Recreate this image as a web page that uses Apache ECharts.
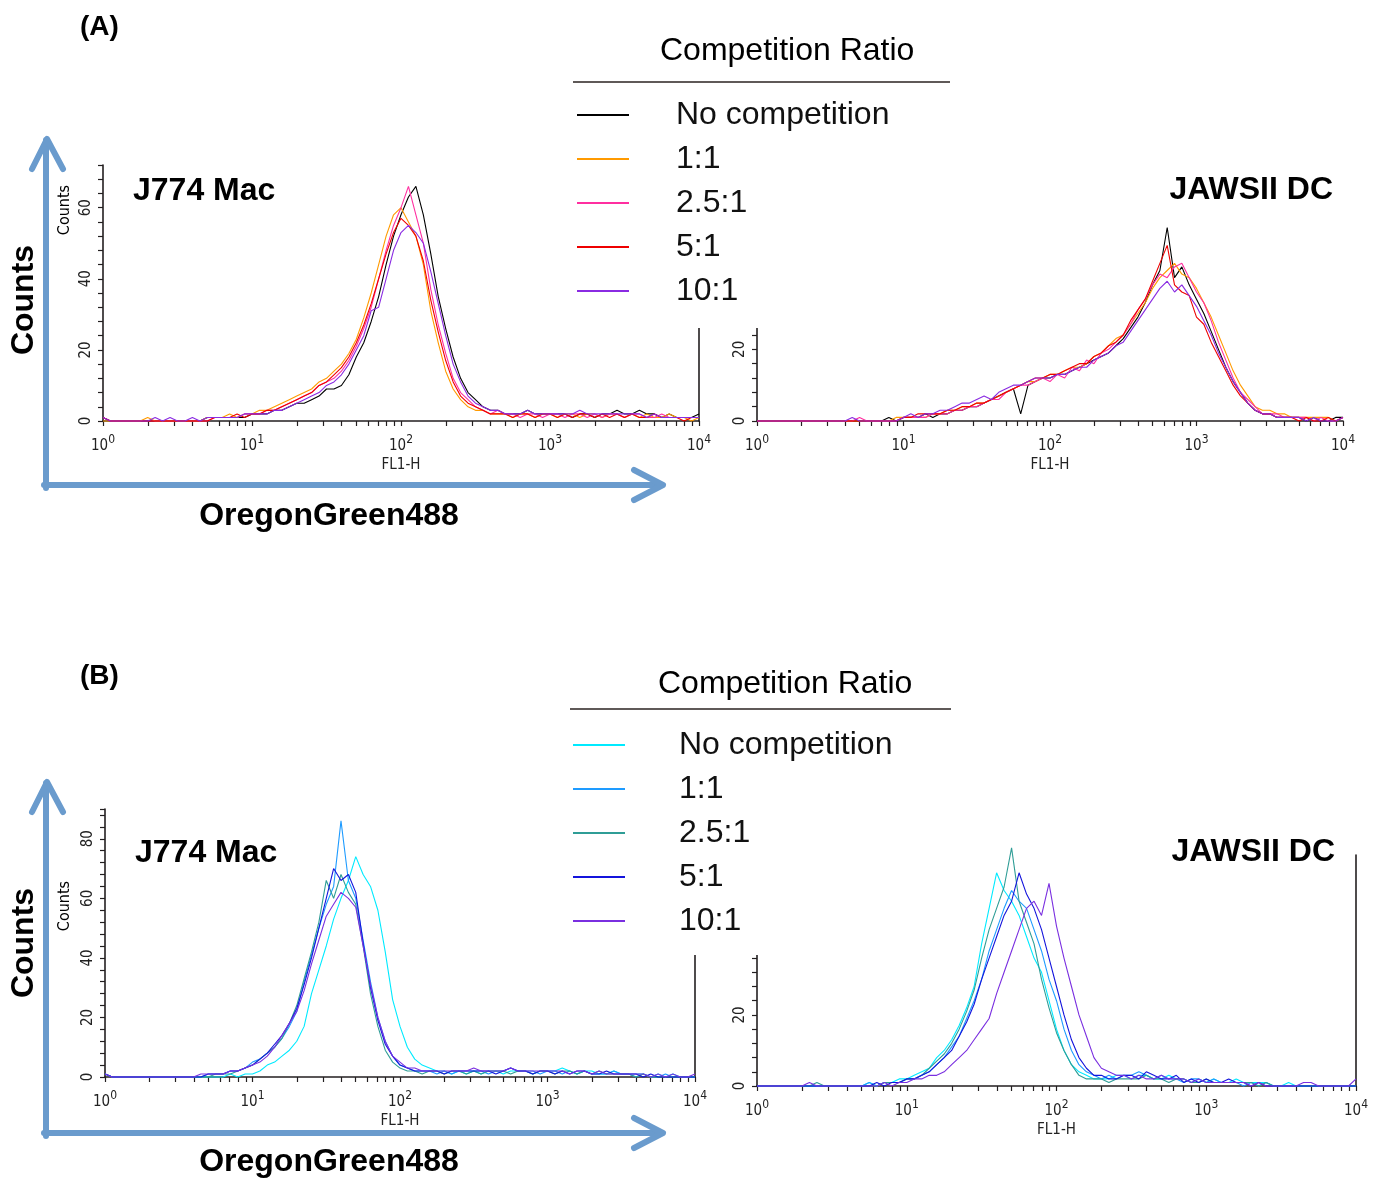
<!DOCTYPE html>
<html>
<head>
<meta charset="utf-8">
<script src="https://cdn.jsdelivr.net/npm/echarts@6/dist/echarts.min.js"></script>
<style>html,body{margin:0;padding:0;background:#fff}#c{width:1377px;height:1180px}</style>
</head>
<body>
<div id="c"></div>
<script>
// FL1-H position in decades (10^0 .. 10^4)
const fl1Decade = [0,0.05,0.1,0.15,0.2,0.25,0.3,0.35,0.4,0.45,0.5,0.55,0.6,0.65,0.7,0.75,0.8,0.85,0.9,0.95,1,1.05,1.1,1.15,1.2,1.25,1.3,1.35,1.4,1.45,1.5,1.55,1.6,1.65,1.7,1.75,1.8,1.85,1.9,1.95,2,2.05,2.1,2.15,2.2,2.25,2.3,2.35,2.4,2.45,2.5,2.55,2.6,2.65,2.7,2.75,2.8,2.85,2.9,2.95,3,3.05,3.1,3.15,3.2,3.25,3.3,3.35,3.4,3.45,3.5,3.55,3.6,3.65,3.7,3.75,3.8,3.85,3.9,3.95,4];
const decadeLabels = [0,1,2,3,4];
const ratioNames = ['No competition','1:1','2.5:1','5:1','10:1'];

// Panel A, J774 Mac
const aMacNone = [1,0,0,0,0,0,0,0,0,0, 0,0,0,0,1,1,1,1,1,1, 2,2,2,3,3,4,5,5,6,7, 9,9,10,13,18,22,28,35,44,52, 58,63,66,58,47,35,26,18,12,8, 6,4,3,3,2,2,2,3,2,2, 2,2,2,1,2,2,1,2,2,3, 2,2,3,2,2,1,2,1,1,1, 2];
const aMac1 = [0,0,0,0,0,0,1,0,0,0, 0,0,0,0,1,1,1,2,1,2, 2,3,3,4,5,6,7,8,9,11, 12,14,16,19,23,29,36,44,52,58, 60,56,52,44,31,22,14,9,6,4, 3,3,2,2,2,1,2,2,1,2, 2,1,2,2,1,2,2,1,2,2, 1,2,1,2,1,1,2,1,1,0, 1];
const aMac25 = [1,0,0,0,0,0,0,0,0,0, 0,0,0,0,0,1,1,1,1,2, 2,2,3,3,4,5,6,7,8,10, 11,12,14,17,21,26,32,40,48,55, 60,66,58,50,37,27,19,12,8,6, 4,3,2,3,2,2,1,2,2,1, 2,2,1,2,2,1,2,1,2,2, 1,2,2,1,1,2,1,1,1,1, 1];
const aMac5 = [1,0,0,0,0,0,0,0,0,0, 0,0,0,0,0,1,1,1,2,1, 2,2,3,3,4,5,6,7,8,10, 11,13,15,18,22,27,33,40,47,53, 57,55,52,45,34,25,17,11,7,5, 4,3,2,2,2,1,2,2,1,2, 2,1,2,1,2,2,1,2,1,2, 1,2,1,1,2,1,1,1,0,1, 1];
const aMac10 = [1,0,0,0,0,0,0,1,0,1, 0,0,1,0,1,1,1,1,1,2, 2,2,2,3,3,4,5,6,7,8, 10,11,13,16,20,24,31,32,40,48, 53,55,53,50,42,33,24,16,11,7, 5,4,3,3,2,2,2,3,2,2, 2,2,2,2,3,2,2,2,2,2, 2,2,2,1,2,1,1,1,1,1, 1];

// Panel A, JAWSII DC
const aDcNone = [0,0,0,0,0,0,0,0,0,0, 0,0,0,0,0,0,0,0,1,0, 1,1,1,2,1,2,2,3,3,4, 4,5,6,7,8,9,2,10,11,12, 12,13,13,14,15,16,17,18,19,21, 23,26,29,33,38,42,54,40,43,38, 34,30,25,20,15,11,8,5,3,2, 2,1,1,1,1,0,1,0,0,1, 1];
const aDc1 = [0,0,0,0,0,0,0,0,0,0, 0,0,0,0,0,0,0,0,0,1, 1,1,1,1,2,2,3,3,4,4, 5,5,6,7,8,9,10,11,11,12, 13,13,14,15,15,16,18,19,21,23, 24,27,30,33,37,40,42,44,41,40, 37,33,29,24,19,14,10,7,4,3, 3,2,2,1,1,1,1,1,1,0, 1];
const aDc25 = [0,0,0,0,0,0,0,0,0,0, 0,0,0,0,1,0,0,0,0,0, 1,1,1,1,2,2,2,3,3,4, 4,5,6,6,8,9,10,10,11,12, 11,13,12,15,14,17,16,19,20,22, 24,27,31,34,38,41,40,43,44,40, 36,33,28,22,17,12,8,6,4,2, 2,2,1,1,1,1,0,1,0,0, 1];
const aDc5 = [0,0,0,0,0,0,0,0,0,0, 0,0,0,0,0,0,0,0,0,0, 1,1,2,2,2,2,3,3,4,4, 5,5,6,7,8,9,10,11,12,12, 13,13,14,15,16,16,18,19,21,22, 24,28,31,34,39,44,49,38,36,35, 29,27,22,18,14,10,7,5,3,2, 2,1,1,1,0,1,0,0,1,0, 1];
const aDc10 = [0,0,0,0,0,0,0,0,0,0, 0,0,0,1,0,0,0,0,0,0, 1,2,1,2,2,3,3,4,5,5, 6,7,6,8,9,10,10,11,12,12, 12,13,13,14,15,15,17,18,19,21, 22,25,28,31,34,37,39,36,38,35, 32,28,24,19,15,11,8,5,3,2, 2,1,1,1,1,0,1,0,0,0, 1];

// Panel B, J774 Mac
const bMacNone = [1,0,0,0,0,0,0,0,0,0, 0,0,0,0,0,0,0,1,0,1, 1,2,4,5,7,9,12,17,28,36, 44,53,60,66,74,68,64,56,42,26, 17,10,6,4,3,2,2,1,2,1, 2,1,2,2,1,2,2,2,1,2, 2,2,3,2,1,2,2,1,1,2, 1,1,1,1,0,1,0,1,0,0, 0];
const bMac1 = [1,0,0,0,0,0,0,0,0,0, 0,0,0,0,1,1,1,2,2,3, 5,6,8,10,13,17,22,32,41,50, 58,64,86,66,60,46,32,20,12,7, 4,3,2,2,2,1,2,1,2,2, 2,2,1,2,2,3,2,2,2,1, 2,2,1,2,1,2,1,1,1,2, 1,1,0,1,0,0,1,0,0,0, 0];
const bMac25 = [1,0,0,0,0,0,0,0,0,0, 0,0,0,0,0,1,1,1,2,3, 4,6,8,10,13,18,24,33,42,52, 66,60,68,62,58,44,28,17,9,5, 3,2,2,1,2,2,1,2,2,1, 2,1,2,2,2,1,2,2,1,2, 2,1,2,2,1,2,1,2,1,1, 1,1,0,1,0,0,0,0,0,0, 0];
const bMac5 = [1,0,0,0,0,0,0,0,0,0, 0,0,0,0,1,1,1,2,2,3, 4,6,8,11,14,18,23,31,40,50, 60,70,66,68,62,45,30,19,11,7, 4,3,2,2,2,2,1,2,2,2, 2,2,2,1,2,3,2,2,1,2, 2,1,2,1,2,2,1,1,2,1, 1,1,1,0,1,0,0,0,0,0, 0];
const bMac10 = [1,0,0,0,0,0,0,0,0,0, 0,0,0,1,1,1,1,2,2,3, 4,5,7,10,14,18,22,29,38,46, 54,58,62,60,57,44,31,20,12,7, 5,3,3,2,2,2,2,2,2,2, 3,2,2,2,2,3,2,2,2,2, 2,2,2,1,2,2,1,2,1,1, 1,1,1,1,0,1,0,1,0,0, 1];

// Panel B, JAWSII DC
const bDcNone = [0,0,0,0,0,0,0,0,0,0, 0,0,0,0,0,1,0,1,1,2, 2,3,4,5,8,10,13,17,22,28, 40,50,60,55,52,48,42,36,32,24, 16,10,6,4,3,2,2,2,3,3, 2,3,3,2,2,3,2,2,1,2, 1,2,1,1,2,1,1,1,1,0, 0,1,0,0,0,0,0,0,0,0, 0];
const bDc1 = [0,0,0,0,0,0,0,0,0,0, 0,0,0,0,0,1,0,1,1,1, 2,2,3,4,6,8,11,14,19,24, 30,38,44,50,55,52,50,44,38,30, 24,16,10,6,4,3,2,3,2,3, 3,4,3,2,3,2,2,1,2,2, 1,2,1,1,1,0,1,0,1,0, 0,0,0,0,0,0,0,0,0,0, 0];
const bDc25 = [0,0,0,0,0,0,0,0,1,0, 0,0,0,0,0,0,0,1,1,1, 2,2,3,5,7,9,12,16,21,27, 36,44,50,56,67,52,46,40,30,22, 15,10,6,3,2,2,2,1,2,2, 2,2,3,2,2,1,2,2,1,1, 2,1,1,1,1,1,1,0,1,0, 0,0,0,0,0,0,0,0,0,0, 0];
const bDc5 = [0,0,0,0,0,0,0,0,0,0, 0,0,0,0,0,0,1,0,1,1, 2,2,3,4,6,8,10,14,18,23, 30,36,42,48,52,60,54,50,44,36, 28,20,13,8,5,3,3,2,2,3, 3,2,4,3,2,2,3,1,2,1, 2,1,1,2,1,1,0,1,0,0, 0,0,0,0,0,0,0,0,0,0, 0];
const bDc10 = [0,0,0,0,0,0,0,1,0,0, 0,0,0,0,0,0,0,1,0,1, 1,2,2,3,3,4,6,8,10,13, 16,19,26,32,38,44,50,52,48,57, 45,36,28,20,14,8,5,4,3,3, 2,3,2,2,3,2,2,2,1,2, 1,1,1,1,1,1,0,1,0,0, 0,0,0,1,1,0,0,0,0,0, 2];

const colorsA = ['#000000','#ff9a00','#ff2fa0','#ee0000','#8a2be2'];
const colorsB = ['#00eaff','#1e9bff','#2f9d96','#1414dc','#7a2fe0'];

const panels = [
  {series:[aMacNone,aMac1,aMac25,aMac5,aMac10], colors: colorsA, grid:{left:103, top:165, width:596, height:256}, max:72, frame:true},
  {series:[aDcNone,aDc1,aDc25,aDc5,aDc10], colors: colorsA, grid:{left:757, top:163, width:586, height:258}, max:72, frame:false},
  {series:[bMacNone,bMac1,bMac25,bMac5,bMac10], colors: colorsB, grid:{left:105, top:809, width:590, height:268}, max:90, frame:true},
  {series:[bDcNone,bDc1,bDc25,bDc5,bDc10], colors: colorsB, grid:{left:757, top:855, width:599, height:231}, max:65, frame:true}
];

const axisColor = '#231f20';
const tickFont = '"Liberation Sans Narrow","DejaVu Sans Condensed","Liberation Sans",sans-serif';
const tickPositions = [];
for (let n = 0; n < 4; n++) for (let k = 1; k < 10; k++) tickPositions.push(n + Math.log10(k));
tickPositions.push(4);

const grids = [], xAxes = [], yAxes = [], series = [];
panels.forEach((p, gi) => {
  grids.push(Object.assign({containLabel:false}, p.grid));
  xAxes.push({
    type:'value', gridIndex:gi, min:0, max:4, interval:1, position:'bottom',
    axisLine:{onZero:false, lineStyle:{color:axisColor, width:1.6}},
    axisTick:{show:true, length:5, customValues:tickPositions, lineStyle:{color:axisColor, width:1.2}},
    axisLabel:{customValues:decadeLabels, margin:13, color:'#222',
      formatter: v => '{b|10}{s|' + v + '}',
      rich:{b:{fontSize:15, fontFamily:tickFont, lineHeight:20, verticalAlign:'bottom', color:'#222'},
            s:{fontSize:12, fontFamily:tickFont, lineHeight:12, verticalAlign:'top', color:'#222'}}},
    splitLine:{show:false},
    name:'FL1-H', nameLocation:'middle', nameGap:37,
    nameTextStyle:{fontSize:15, fontFamily:tickFont, color:'#222'}
  });
  yAxes.push({
    type:'value', gridIndex:gi, min:0, max:p.max, interval:4, position:'left',
    axisLine:{show:true, onZero:false, lineStyle:{color:axisColor, width:1.6}},
    axisTick:{show:true, length:5, lineStyle:{color:axisColor, width:1.2}},
    axisLabel:{rotate:90, margin:9, fontSize:15, fontFamily:tickFont, color:'#222',
      formatter: v => (v % 20 === 0 ? String(v) : '')},
    splitLine:{show:false}
  });
  p.yIndex = yAxes.length - 1;
  if (p.frame) {
    yAxes.push({
      type:'value', gridIndex:gi, min:0, max:p.max, position:'right',
      axisLine:{show:true, onZero:false, lineStyle:{color:axisColor, width:1.6}},
      axisTick:{show:false}, axisLabel:{show:false}, splitLine:{show:false}
    });
  }
  p.series.forEach((vals, si) => {
    series.push({
      type:'line', name: ratioNames[si], xAxisIndex:gi, yAxisIndex:p.yIndex,
      data: fl1Decade.map((x, i) => [x, vals[i]]),
      showSymbol:false, symbol:'none', clip:false, silent:true, animation:false,
      lineStyle:{color:p.colors[si], width:1.1}, itemStyle:{color:p.colors[si]}
    });
  });
});

function legendFor(top, left, colors, textGap) {
  return {
    orient:'vertical', left:left, top:top, padding:0, itemWidth:52, itemHeight:2, itemGap:10,
    icon:'rect', selectedMode:false, z:10,
    textStyle:{fontFamily:'"Liberation Sans",Arial,sans-serif', fontSize:32, color:'#111', lineHeight:34, padding:[0,0,0,textGap]},
    data: ratioNames.map((n, i) => ({name:n, itemStyle:{color:colors[i]}}))
  };
}

const blue = '#6a9bcd';
function arrowSet(yTop, yBase) {
  return [
    {type:'polyline', z:1, shape:{points:[[46,yBase+3],[46,yTop+2]]}, style:{stroke:blue, lineWidth:6, lineCap:'round', fill:null}},
    {type:'polyline', z:1, shape:{points:[[32,yTop+31],[47,yTop+1],[63,yTop+31]]}, style:{stroke:blue, lineWidth:6, lineCap:'round', lineJoin:'round', fill:null}},
    {type:'polyline', z:1, shape:{points:[[44,yBase],[661,yBase]]}, style:{stroke:blue, lineWidth:6, lineCap:'round', fill:null}},
    {type:'polyline', z:1, shape:{points:[[634,yBase-15],[663,yBase],[634,yBase+15]]}, style:{stroke:blue, lineWidth:6, lineCap:'round', lineJoin:'round', fill:null}}
  ];
}
function txt(x, y, text, font, align, rot) {
  return {type:'text', z:12, x:x, y:y, rotation: rot || 0,
    style:{text:text, font:font, fill:'#000', textAlign:align || 'left', textVerticalAlign:'middle'}};
}
const boldF = s => 'bold ' + s + 'px "Liberation Sans",Arial,sans-serif';
const regF = s => s + 'px "Liberation Sans",Arial,sans-serif';

const graphics = [].concat(
  arrowSet(138, 485),
  arrowSet(781, 1133),
  [
    {type:'rect', z:5, shape:{x:566, y:18, width:390, height:310}, style:{fill:'#ffffff'}},
    {type:'rect', z:5, shape:{x:566, y:655, width:390, height:300}, style:{fill:'#ffffff'}},
    {type:'line', z:11, shape:{x1:573, y1:82, x2:950, y2:82}, style:{stroke:'#2a2220', lineWidth:1.5}},
    {type:'line', z:11, shape:{x1:570, y1:709, x2:951, y2:709}, style:{stroke:'#2a2220', lineWidth:1.5}},
    txt(660, 51, 'Competition Ratio', regF(32)),
    txt(658, 684, 'Competition Ratio', regF(32)),
    txt(80, 27, '(A)', boldF(28)),
    txt(80, 676, '(B)', boldF(28)),
    txt(133, 191, 'J774 Mac', boldF(32)),
    txt(135, 853, 'J774 Mac', boldF(32)),
    txt(1333, 190, 'JAWSII DC', boldF(32), 'right'),
    txt(1335, 852, 'JAWSII DC', boldF(32), 'right'),
    txt(24, 300, 'Counts', boldF(32), 'center', Math.PI/2),
    txt(24, 943, 'Counts', boldF(32), 'center', Math.PI/2),
    txt(329, 516, 'OregonGreen488', boldF(32), 'center'),
    txt(329, 1162, 'OregonGreen488', boldF(32), 'center'),
    txt(65, 210, 'Counts', '16px ' + tickFont, 'center', Math.PI/2),
    txt(65, 906, 'Counts', '16px ' + tickFont, 'center', Math.PI/2)
  ]
);

const chart = echarts.init(document.getElementById('c'), null, {renderer:'canvas'});
chart.setOption({
  backgroundColor:'#ffffff',
  animation:false,
  grid: grids, xAxis: xAxes, yAxis: yAxes, series: series,
  legend: [legendFor(98, 577, colorsA, 42), legendFor(728, 573, colorsB, 49)],
  graphic: graphics
});
</script>
</body>
</html>
